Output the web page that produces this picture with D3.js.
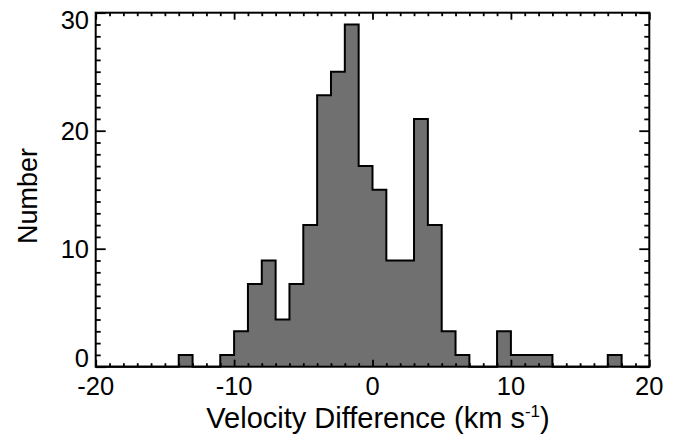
<!DOCTYPE html>
<html>
<head>
<meta charset="utf-8">
<script src="https://cdn.jsdelivr.net/npm/d3@7"></script>
<style>
  html, body { margin: 0; padding: 0; background: #fff; }
  svg { display: block; font-family: "Liberation Sans", Arial, Helvetica, sans-serif; }
</style>
</head>
<body>
<svg id="chart" width="683" height="441"></svg>
<script>
// ---- data ----
const binStarts = d3.range(-20, 20);          // lower edges of 1 km/s bins
const counts = [0,0,0,0,0,0,1,0,0,1,3,7,9,4,7,12,23,25,29,17,15,9,9,21,12,3,1,0,0,3,1,1,1,0,0,0,0,1,0,0];
const xMajorTicks = [-20, -10, 0, 10, 20];
const xTickLabels = ["-20", "-10", "0", "10", "20"];
const yMajorTicks = [0, 10, 20, 30];
const yTickLabels = ["0", "10", "20", "30"];
const xTitle = "Velocity Difference (km s";
const yTitle = "Number";

// ---- layout ----
const L = 95.7, R = 649.3, T = 12.7, B = 366.7;
const svg = d3.select("#chart");
const x = d3.scaleLinear().domain([-20, 20]).range([L, R]);
const y = d3.scaleLinear().domain([0, 30]).range([B, T]);

const pts = binStarts.map((s, i) => [s, counts[i]]);
pts.push([20, counts[counts.length - 1]]);

svg.append("path")
  .datum(pts)
  .attr("fill", "#707070")
  .attr("d", d3.area().curve(d3.curveStepAfter).x(d => x(d[0])).y0(y(0)).y1(d => y(d[1])));

svg.append("path")
  .datum(pts)
  .attr("fill", "none")
  .attr("stroke", "#000")
  .attr("stroke-width", 2)
  .attr("d", d3.line().curve(d3.curveStepAfter).x(d => x(d[0])).y(d => y(d[1])));

// ---- ticks (inward on all four sides) ----
const xMinor = d3.range(-20, 21).filter(v => v % 10 !== 0);
const yMinor = d3.range(0, 31).filter(v => v % 10 !== 0);

function addAxis(axis, tr) {
  const g = svg.append("g").attr("transform", tr).call(axis);
  g.select(".domain").remove();
  g.selectAll("text").remove();
  g.selectAll("line").attr("stroke", "#000").attr("stroke-width", 1.8);
  return g;
}
addAxis(d3.axisBottom(x).tickValues(xMajorTicks).tickSize(-7), `translate(0,${B})`);
addAxis(d3.axisBottom(x).tickValues(xMinor).tickSize(-3.5), `translate(0,${B})`);
addAxis(d3.axisTop(x).tickValues(xMajorTicks).tickSize(-7), `translate(0,${T})`);
addAxis(d3.axisTop(x).tickValues(xMinor).tickSize(-3.5), `translate(0,${T})`);
addAxis(d3.axisLeft(y).tickValues(yMajorTicks).tickSize(-10), `translate(${L},0)`);
addAxis(d3.axisLeft(y).tickValues(yMinor).tickSize(-5), `translate(${L},0)`);
addAxis(d3.axisRight(y).tickValues(yMajorTicks).tickSize(-10), `translate(${R},0)`);
addAxis(d3.axisRight(y).tickValues(yMinor).tickSize(-5), `translate(${R},0)`);

// frame
svg.append("rect")
  .attr("x", L).attr("y", T).attr("width", R - L).attr("height", B - T)
  .attr("fill", "none").attr("stroke", "#000").attr("stroke-width", 2);

// ---- tick labels ----
svg.append("g").selectAll("text").data(xMajorTicks).join("text")
  .attr("x", d => x(d))
  .attr("y", 395)
  .attr("text-anchor", "middle")
  .attr("font-size", 25.5)
  .attr("fill", "#000")
  .text((d, i) => xTickLabels[i]);

svg.append("g").selectAll("text").data(yMajorTicks).join("text")
  .attr("x", 89)
  .attr("y", d => Math.min(Math.max(y(d), T + 7.5), B - 8.5))
  .attr("dy", "0.36em")
  .attr("text-anchor", "end")
  .attr("font-size", 25.5)
  .attr("fill", "#000")
  .text((d, i) => yTickLabels[i]);

// ---- axis titles ----
const xt = svg.append("text")
  .attr("x", 378)
  .attr("y", 428)
  .attr("text-anchor", "middle")
  .attr("font-size", 29)
  .attr("fill", "#000");
xt.append("tspan").text(xTitle);
xt.append("tspan").attr("font-size", 17).attr("dy", -11).text("-1");
xt.append("tspan").attr("dy", 11).text(")");

svg.append("text")
  .attr("transform", "translate(37,196) rotate(-90)")
  .attr("text-anchor", "middle")
  .attr("font-size", 27)
  .attr("fill", "#000")
  .text(yTitle);
</script>
</body>
</html>
